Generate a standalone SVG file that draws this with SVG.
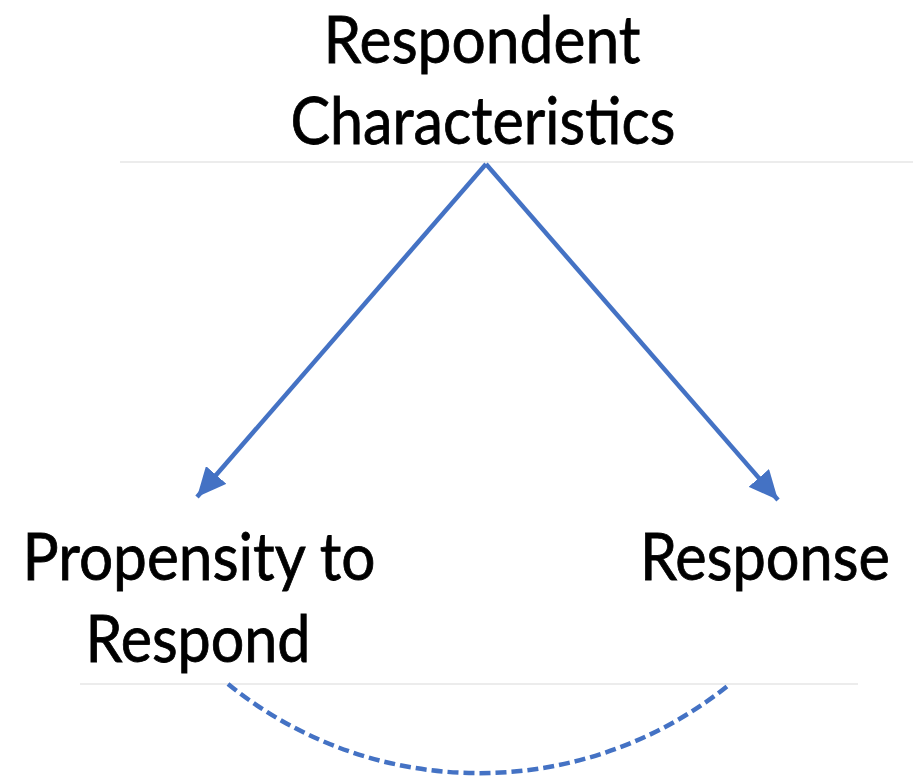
<svg xmlns="http://www.w3.org/2000/svg" width="913" height="778" viewBox="0 0 913 778">
<style>
.lbl{font-family:Lato,"Open Sans","Liberation Sans",sans-serif;font-size:65px;fill:#000;stroke:#000;stroke-width:0.8;text-anchor:middle}
.guide{stroke:#e6e6e6;stroke-width:1.5;fill:none}
.conn{stroke:#4472C4;stroke-width:4.5;fill:none}
.dash{stroke:#4472C4;stroke-width:4.5;fill:none;stroke-dasharray:11 5}
</style>
<defs>
<marker id="ah" markerWidth="6.5" markerHeight="6" refX="6.5" refY="3" orient="auto" markerUnits="strokeWidth">
<path d="M0,0 L6.5,3 L0,6 Z" fill="#4472C4"/>
</marker>
</defs>
<rect width="913" height="778" fill="#fff"/>
<line class="guide" x1="120" y1="162" x2="913" y2="162"/>
<line class="guide" x1="80" y1="684" x2="858" y2="684"/>
<g id="n-respondent">
<text class="lbl" x="482" y="63" textLength="317" lengthAdjust="spacingAndGlyphs">Respondent</text>
<text class="lbl" x="483" y="144" textLength="385" lengthAdjust="spacingAndGlyphs">Characteristics</text>
</g>
<g id="n-propensity">
<text class="lbl" x="199" y="580" textLength="353" lengthAdjust="spacingAndGlyphs">Propensity to</text>
<text class="lbl" x="198" y="662" textLength="225" lengthAdjust="spacingAndGlyphs">Respond</text>
</g>
<g id="n-response">
<text class="lbl" x="765" y="580" textLength="250" lengthAdjust="spacingAndGlyphs">Response</text>
</g>
<g id="connectors">
<line class="conn" x1="486" y1="164" x2="197" y2="497" marker-end="url(#ah)"/>
<line class="conn" x1="486" y1="164" x2="778" y2="500" marker-end="url(#ah)"/>
<path class="dash" d="M228,684 A398,398 0 0 0 730,684"/>
</g>
</svg>
